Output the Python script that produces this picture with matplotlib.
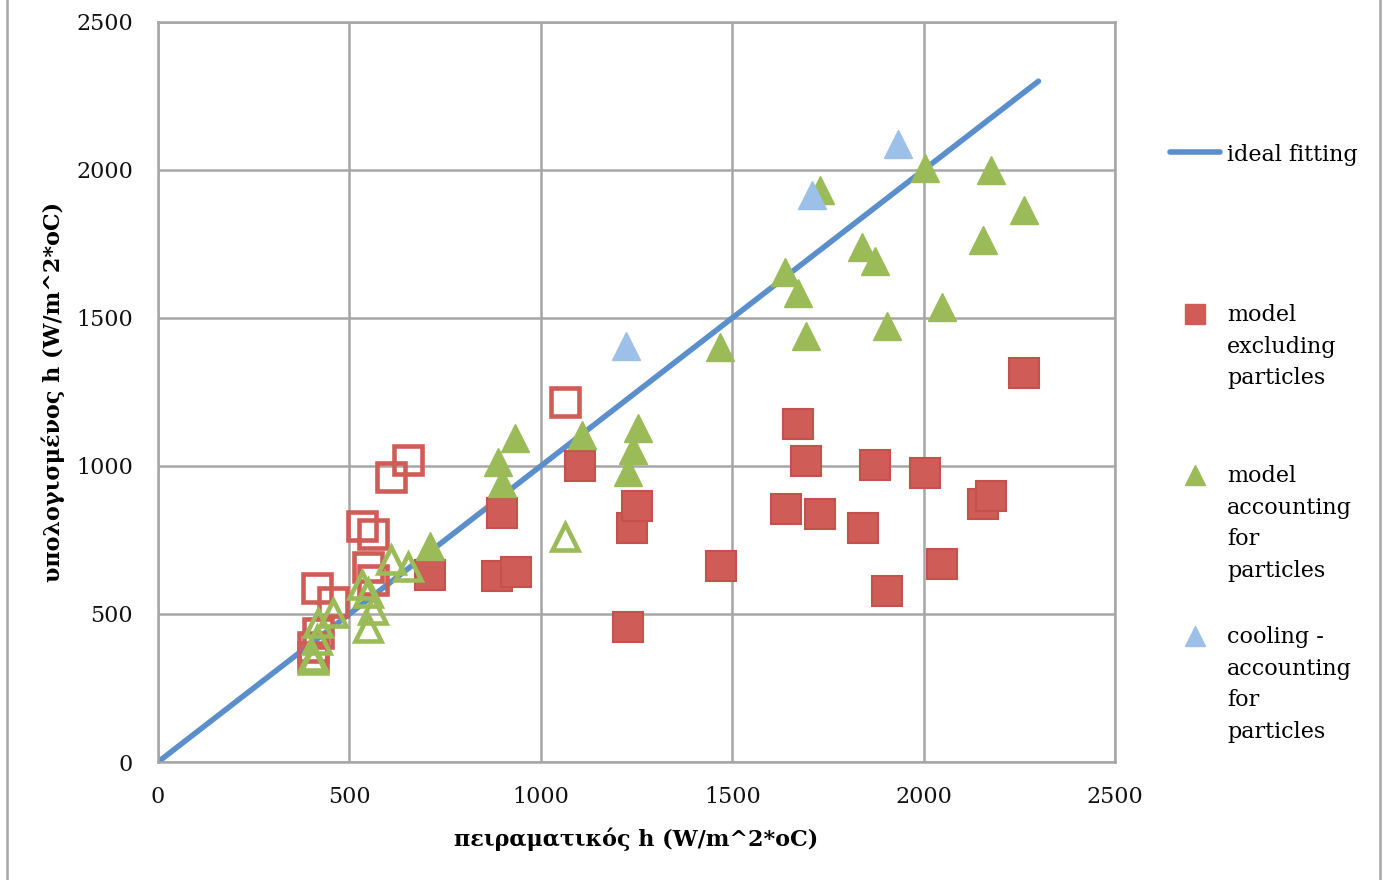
import matplotlib
matplotlib.use("Agg")
import matplotlib.pyplot as plt
from matplotlib.lines import Line2D
from matplotlib.patches import Rectangle

# ideal line
ideal_x = [0, 2300]
ideal_y = [0, 2300]

# model excluding particles (filled squares)
excl_x = [710, 886, 935, 899, 1102, 1228, 1238, 1251, 1471, 1641, 1672, 1693,
          1729, 1842, 1873, 1904, 2004, 2048, 2155, 2176, 2262]
excl_y = [632, 628, 642, 841, 1000, 456, 790, 865, 662, 855, 1142, 1017,
          838, 790, 1003, 578, 976, 669, 872, 899, 1314]

# model excluding particles, low range (open squares)
excl_open_x = [653, 609, 533, 562, 549, 562, 415, 457, 418, 405, 405, 1063]
excl_open_y = [1020, 963, 797, 770, 659, 615, 588, 541, 436, 389, 355, 1216]

# model accounting for particles (filled triangles)
acc_x = [710, 933, 888, 899, 1107, 1254, 1241, 1228, 1468, 1638, 1672, 1693,
         1729, 1839, 1873, 1904, 2004, 2048, 2155, 2176, 2262]
acc_y = [730, 1095, 1014, 943, 1105, 1128, 1054, 980, 1402, 1655, 1584, 1439,
         1932, 1740, 1693, 1473, 2007, 1537, 1764, 2000, 1865]

# model accounting for particles, low range (open triangles)
acc_open_x = [609, 653, 533, 549, 562, 549, 457, 418, 415, 405, 405, 1063]
acc_open_y = [682, 659, 598, 571, 514, 453, 503, 470, 412, 355, 345, 760]

# cooling - accounting for particles
cool_x = [1223, 1708, 1933]
cool_y = [1405, 1916, 2088]

RED = "#cf5c56"
RED_EDGE = "#c4524c"
GREEN = "#9bbb59"
BLUE = "#5a8fcc"
LBLUE = "#9cc0e8"

plt.rcParams["font.family"] = ["DejaVu Serif"]

W, H = 1385, 880
fig = plt.figure(figsize=(W / 100, H / 100), dpi=100)
ax = fig.add_axes([158 / W, (H - 762) / H, (1115 - 158) / W, (762 - 22) / H])

ax.plot(ideal_x, ideal_y, color=BLUE, lw=4, zorder=2, solid_capstyle="round")
ax.plot(excl_x, excl_y, ls="none", marker="s", ms=21.5, mfc=RED, mec=RED_EDGE,
        mew=1.5, zorder=3)
ax.plot(excl_open_x, excl_open_y, ls="none", marker="s", ms=19.5, mfc="none",
        mec=RED, mew=3.3, zorder=3)
ax.plot(acc_x, acc_y, ls="none", marker="^", ms=20, mfc=GREEN, mec=GREEN,
        mew=1, zorder=4)
ax.plot(acc_open_x, acc_open_y, ls="none", marker="^", ms=18.5, mfc="none",
        mec=GREEN, mew=3.3, zorder=4)
ax.plot(cool_x, cool_y, ls="none", marker="^", ms=20, mfc=LBLUE, mec=LBLUE,
        mew=1, zorder=4)

ax.set_xlim(0, 2500)
ax.set_ylim(0, 2500)
ax.set_xticks(range(0, 2501, 500))
ax.set_yticks(range(0, 2501, 500))
ax.grid(True, color="#a6a6a6", lw=1.8, zorder=0)
ax.set_axisbelow(True)
for s in ax.spines.values():
    s.set_color("#a6a6a6")
    s.set_linewidth(1.8)
ax.tick_params(length=0, labelsize=16, colors="#111111")
ax.tick_params(axis="x", pad=17)
ax.tick_params(axis="y", pad=18)

ax.set_xlabel("πειραματικός h (W/m^2*oC)", fontsize=16, fontweight="bold",
              labelpad=14)
ax.set_ylabel("υπολογισμένος h (W/m^2*oC)", fontsize=16, fontweight="bold",
              labelpad=8)

# legend on the right, one slot per series
def fx(px):
    return px / W

def fy(py):
    return 1 - py / H

fig.add_artist(Line2D([fx(1170), fx(1220)], [fy(152), fy(152)], color=BLUE,
                      lw=4, solid_capstyle="round", transform=fig.transFigure))
fig.text(fx(1227), fy(155), "ideal fitting", fontsize=16, va="center")

entries = [
    ("s", RED, "model\nexcluding\nparticles", 316),
    ("^", GREEN, "model\naccounting\nfor\nparticles", 477),
    ("^", LBLUE, "cooling -\naccounting\nfor\nparticles", 638),
]
for mk, col, label, ytop in entries:
    fig.add_artist(Line2D([fx(1195)], [fy(ytop - 2)], marker=mk, ms=14,
                          mfc=col, mec=col, ls="none",
                          transform=fig.transFigure))
    fig.text(fx(1227), fy(ytop - 12), label, fontsize=16, va="top",
             linespacing=1.56)

# outer chart frame
fig.add_artist(Rectangle((fx(7), -0.01), fx(1380) - fx(7), 1.02,
                         fill=False, ec="#a6a6a6", lw=1.8,
                         transform=fig.transFigure))

fig.savefig("out.png", dpi=100)
